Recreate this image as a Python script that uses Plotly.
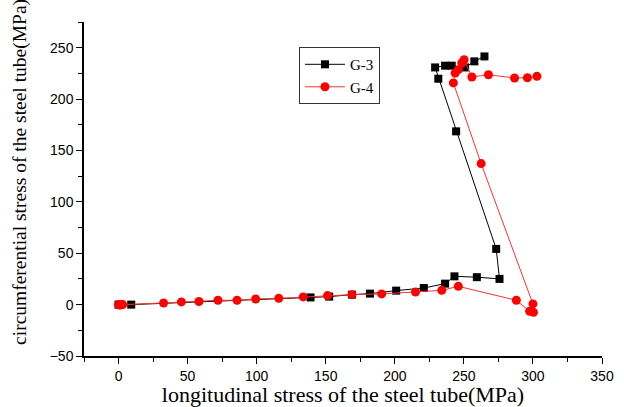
import plotly.graph_objects as go

g3_x = [0, 9.2, 139, 152.5, 169, 182, 201, 221, 236.4, 243.2, 259.4, 275.8,
        273.4, 244.4, 231.5, 229.2, 236.4, 241.2, 250.9, 257.6, 264.9]
g3_y = [0, 0, 7, 7.8, 9.7, 10.7, 13.6, 16.2, 20.4, 27.5, 26.7, 25,
        54.2, 168.6, 219.8, 230.8, 232.5, 232.5, 230.8, 236.7, 241.5]

g4_x = [0, 1, 2, 3, 32.6, 45.5, 58.2, 72, 85.8, 99.3, 116, 133.7, 151.3, 169,
        190.5, 215, 234, 246, 288, 297.6, 300.4, 300, 262.5, 242.4, 243.7,
        246, 248.5, 250.2, 255.8, 267.8, 286.7, 296, 302.9]
g4_y = [0, -0.5, 0, 0, 1.6, 2.6, 3, 4.2, 4.2, 5.5, 6.1, 7.5, 8.8, 9.7,
        10.4, 12.3, 13.9, 17.8, 4.2, -6.5, -7.5, 0.7, 137.2, 215.7, 225.4,
        228.6, 235.1, 238.3, 221.5, 223.7, 220.5, 220.8, 222.1]

x_ticks = [0, 50, 100, 150, 200, 250, 300, 350]
y_ticks = [-50, 0, 50, 100, 150, 200, 250]

fig = go.Figure()
fig.add_trace(go.Scatter(x=g3_x, y=g3_y, mode="lines+markers", name="G-3",
                         line=dict(color="black", width=1),
                         marker=dict(symbol="square", size=8, color="black")))
fig.add_trace(go.Scatter(x=g4_x, y=g4_y, mode="lines+markers", name="G-4",
                         line=dict(color="#ff3030", width=1),
                         marker=dict(symbol="circle", size=9, color="red")))

axis_common = dict(showgrid=False, zeroline=False, showline=True, linecolor="black",
                   linewidth=1.5, ticks="outside", ticklen=6, tickwidth=1.2,
                   tickcolor="black", automargin=False,
                   tickfont=dict(family="Liberation Sans", size=14, color="black"),
                   minor=dict(ticks="outside", ticklen=4, tickwidth=1, tickcolor="black"))

fig.update_layout(
    width=624, height=407,
    margin=dict(l=84, r=22, t=22, b=51),
    paper_bgcolor="white", plot_bgcolor="white",
    showlegend=True,
    legend=dict(x=0.415, y=0.925, xanchor="left", yanchor="top",
                bordercolor="#333333", borderwidth=1, bgcolor="white",
                font=dict(family="Liberation Serif", size=15, color="black"),
                tracegroupgap=0, itemwidth=40),
    xaxis=dict(range=[-25, 350], tickvals=x_ticks,
               title=dict(text="longitudinal stress of the steel tube(MPa)",
                          font=dict(family="Liberation Serif", size=22, color="black"),
                          standoff=4),
               **axis_common),
    yaxis=dict(range=[-50, 275], tickvals=y_ticks, **axis_common),
    annotations=[dict(text="circumferential stress of the steel tube(MPa)",
                      xref="paper", yref="paper", x=-0.1236, y=0.551,
                      xanchor="center", yanchor="middle", textangle=-90,
                      showarrow=False,
                      font=dict(family="Liberation Serif", size=19.5, color="black"))],
)
fig.update_xaxes(minor=dict(tickvals=[-25, 25, 75, 125, 175, 225, 275, 325]))
fig.update_yaxes(minor=dict(tickvals=[-25, 25, 75, 125, 175, 225, 275]))

fig.write_html("out.html")
